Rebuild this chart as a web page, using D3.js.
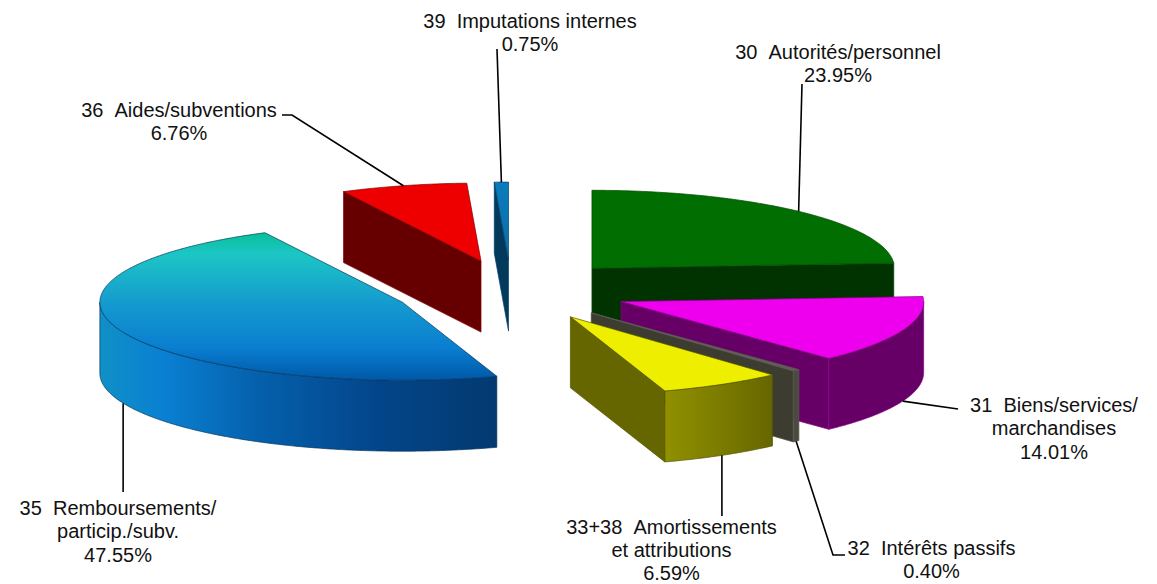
<!DOCTYPE html>
<html><head><meta charset="utf-8">
<script src="https://cdn.jsdelivr.net/npm/d3@7/dist/d3.min.js"></script>
<style>html,body{margin:0;padding:0;background:#fff}svg{display:block}
text{font-family:"Liberation Sans",Arial,sans-serif;font-size:20px;fill:#111;text-anchor:middle}</style>
</head><body><svg id="c" width="1157" height="584"></svg>
<script>
// ---- data ----
const codes = ["30","31","32","33+38","35","36","39"];
const names = ["Autorités/personnel","Biens/services/","Intérêts passifs","Amortissements","Remboursements/","Aides/subventions","Imputations internes"];
const extraLines = [[],["marchandises"],[],["et attributions"],["particip./subv."],[],[]];
const values = [23.95,14.01,0.40,6.59,47.55,6.76,0.75];

// ---- styles ----
const topColors = [
  [[0,"#006e00"],[1,"#006e00"]],
  [[0,"#ee00ee"],[1,"#ee00ee"]],
  [[0,"#6a6a62"],[1,"#5e5e56"]],
  [[0,"#eeee00"],[1,"#eeee00"]],
  [[0,"#08bf98"],[0.14,"#1cc6c4"],[0.5,"#1498cf"],[0.78,"#0a7ed0"],[1,"#0058a8"]],
  [[0,"#ee0000"],[1,"#ee0000"]],
  [[0,"#0a7cbc"],[1,"#0a6ea8"]]
];
const radialColors = ["#003300","#660066","#3c3c30","#666600","#003a70","#660000","#033a5c"];
const outerStops = [
  [[0,"#003300"],[1,"#003300"]],
  [[0,"#660066"],[1,"#660066"]],
  [[0,"#4a4a40"],[1,"#4a4a40"]],
  [[0,"#909000"],[0.4,"#808000"],[1,"#666600"]],
  [[0,"#0f90c6"],[0.16,"#0a80d2"],[0.4,"#0560ac"],[0.7,"#03458a"],[1,"#033a70"]],
  [[0,"#660000"],[1,"#660000"]],
  [[0,"#033a5c"],[1,"#033a5c"]]
];
const edgeColors = ["#004a00","#8a008a","#5a5a50","#555500","#06365f","#800000","#06406a"];
const paintOrder = [5,6,0,4,1,2,3];

// ---- layout ----
const cx=511.3, cy=290.5, rx=302.5, ry=78, depth=71, explode=118;
// label centre x, first baseline, line height, leader tail
const labelLayout=[
  {x:838,  y:58.5, lh:23.6, tail:[[802,84]]},
  {x:1054, y:411.5,lh:23.6, tail:[[958,409]]},
  {x:931.5,y:554.5,lh:23.6, tail:[[833,555],[845,555]]},
  {x:671.5,y:534,  lh:23,   tail:[[null,516]]},
  {x:118,  y:514.5,lh:23.6, tail:[[null,492]]},
  {x:179,  y:116.5,lh:23.6, tail:[[292,115],[282,115]]},
  {x:530,  y:27.5, lh:23.6, tail:[[497,49]]}
];

const svg=d3.select("#c"), defs=svg.append("defs");
const arcs=d3.pie().sort(null).startAngle(0).endAngle(2*Math.PI)(values);
const lineGen=d3.line();

function apex(a){const m=(a.startAngle+a.endAngle)/2;
  return [cx+explode*Math.sin(m), cy-explode*(ry/rx)*Math.cos(m)];}
function rim(p,t,dz=0){return [p[0]+rx*Math.sin(t), p[1]-ry*Math.cos(t)+dz];}
function samples(t0,t1){const n=Math.max(2,Math.ceil((t1-t0)/0.01));
  return d3.range(n+1).map(i=>t0+(t1-t0)*i/n);}
function grad(id,stops,x1,y1,x2,y2){
  const g=defs.append("linearGradient").attr("id",id).attr("gradientUnits","userSpaceOnUse")
    .attr("x1",x1).attr("y1",y1).attr("x2",x2).attr("y2",y2);
  stops.forEach(s=>g.append("stop").attr("offset",s[0]).attr("stop-color",s[1]));
  return `url(#${id})`;
}

const gPie=svg.append("g");
paintOrder.forEach(i=>{
  const a=arcs[i], p=apex(a), s=a.startAngle, e=a.endAngle;
  const edge=edgeColors[i];
  const draw=(pts,fill)=>gPie.append("path").attr("d",lineGen(pts)+"Z").attr("fill",fill)
      .attr("stroke",edge).attr("stroke-width",0.7).attr("stroke-linejoin","round");
  [[s,Math.sin(s)<0],[e,Math.sin(e)>0]].forEach(([t,vis])=>{
    if(!vis) return;
    const q=rim(p,t);
    draw([p,q,[q[0],q[1]+depth],[p[0],p[1]+depth]],radialColors[i]);
  });
  const t0=Math.max(s,Math.PI/2), t1=Math.min(e,3*Math.PI/2);
  if(t1>t0){
    const ts=samples(t0,t1);
    const up=ts.map(t=>rim(p,t)), down=ts.map(t=>rim(p,t,depth)).reverse();
    const xs=up.map(d=>d[0]);
    const fill=grad("o"+i,outerStops[i],d3.min(xs),0,d3.max(xs),0);
    draw(up.concat(down),fill);
  }
  const pts=[p].concat(samples(s,e).map(t=>rim(p,t)));
  const fill=grad("t"+i,topColors[i],0,d3.min(pts,d=>d[1]),0,d3.max(pts,d=>d[1]));
  draw(pts,fill);
});

// ---- labels and leaders ----
const gLab=svg.append("g");
arcs.forEach((a,i)=>{
  const m=(a.startAngle+a.endAngle)/2, p=apex(a);
  const anchor=rim(p,m,Math.cos(m)<0?depth:0);
  const L=labelLayout[i];
  const pts=[anchor].concat(L.tail.map(d=>[d[0]===null?anchor[0]:d[0],d[1]]));
  gLab.append("path").attr("d",lineGen(pts)).attr("fill","none").attr("stroke","#000").attr("stroke-width",1.6);
  const lines=[`${codes[i]}\u00a0\u00a0${names[i]}`].concat(extraLines[i],[values[i].toFixed(2)+"%"]);
  lines.forEach((t,j)=>gLab.append("text").attr("x",L.x).attr("y",L.y+j*L.lh).text(t));
});
</script></body></html>
